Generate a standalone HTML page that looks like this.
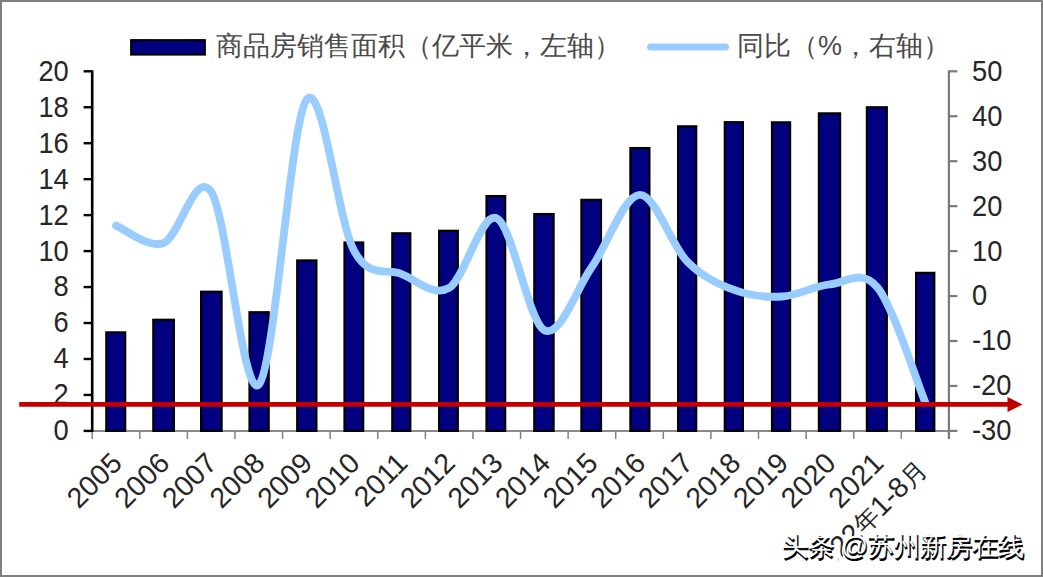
<!DOCTYPE html>
<html><head><meta charset="utf-8">
<style>
html,body{margin:0;padding:0;background:#fff;}
body{width:1043px;height:577px;position:relative;overflow:hidden;font-family:"Liberation Sans",sans-serif;}
.frame{position:absolute;left:0;top:0;width:1043px;height:577px;box-sizing:border-box;border:2px solid #7f7f7f;border-right-width:2.3px;border-bottom-width:2.3px;}
.leg{position:absolute;top:29px;font-size:27px;line-height:34px;letter-spacing:0px;color:#4a4a4a;white-space:nowrap;}
.wm{position:absolute;left:782px;top:529px;font-size:26.4px;line-height:34px;white-space:nowrap;}
.wm.b{color:#000;-webkit-text-stroke:0.9px #000;transform:translate(0.7px,1.5px);text-shadow:2px 0 0 #fff,-2px 0 0 #fff,0 2px 0 #fff,0 -2px 0 #fff,1.5px 1.5px 0 #fff,-1.5px -1.5px 0 #fff,1.5px -1.5px 0 #fff,-1.5px 1.5px 0 #fff;}
.wm.w{color:#fff;}
</style></head><body>
<svg width="1043" height="577" viewBox="0 0 1043 577" style="position:absolute;left:0;top:0">
<g><line x1="92.2" y1="430.9" x2="948.9" y2="430.9" stroke="#8a8a8a" stroke-width="2"/><line x1="92.20" y1="430.9" x2="92.20" y2="438.9" stroke="#808080" stroke-width="1.5"/><line x1="139.79" y1="430.9" x2="139.79" y2="438.9" stroke="#808080" stroke-width="1.5"/><line x1="187.39" y1="430.9" x2="187.39" y2="438.9" stroke="#808080" stroke-width="1.5"/><line x1="234.98" y1="430.9" x2="234.98" y2="438.9" stroke="#808080" stroke-width="1.5"/><line x1="282.58" y1="430.9" x2="282.58" y2="438.9" stroke="#808080" stroke-width="1.5"/><line x1="330.17" y1="430.9" x2="330.17" y2="438.9" stroke="#808080" stroke-width="1.5"/><line x1="377.77" y1="430.9" x2="377.77" y2="438.9" stroke="#808080" stroke-width="1.5"/><line x1="425.36" y1="430.9" x2="425.36" y2="438.9" stroke="#808080" stroke-width="1.5"/><line x1="472.96" y1="430.9" x2="472.96" y2="438.9" stroke="#808080" stroke-width="1.5"/><line x1="520.55" y1="430.9" x2="520.55" y2="438.9" stroke="#808080" stroke-width="1.5"/><line x1="568.14" y1="430.9" x2="568.14" y2="438.9" stroke="#808080" stroke-width="1.5"/><line x1="615.74" y1="430.9" x2="615.74" y2="438.9" stroke="#808080" stroke-width="1.5"/><line x1="663.33" y1="430.9" x2="663.33" y2="438.9" stroke="#808080" stroke-width="1.5"/><line x1="710.93" y1="430.9" x2="710.93" y2="438.9" stroke="#808080" stroke-width="1.5"/><line x1="758.52" y1="430.9" x2="758.52" y2="438.9" stroke="#808080" stroke-width="1.5"/><line x1="806.12" y1="430.9" x2="806.12" y2="438.9" stroke="#808080" stroke-width="1.5"/><line x1="853.71" y1="430.9" x2="853.71" y2="438.9" stroke="#808080" stroke-width="1.5"/><line x1="901.31" y1="430.9" x2="901.31" y2="438.9" stroke="#808080" stroke-width="1.5"/><line x1="948.90" y1="430.9" x2="948.90" y2="438.9" stroke="#808080" stroke-width="1.5"/></g>
<g><rect x="106.30" y="332.37" width="18.90" height="98.53" fill="#000080" stroke="#000" stroke-width="2.2"/><rect x="153.30" y="319.78" width="20.60" height="111.12" fill="#000080" stroke="#000" stroke-width="2.2"/><rect x="201.10" y="291.73" width="20.50" height="139.17" fill="#000080" stroke="#000" stroke-width="2.2"/><rect x="249.50" y="312.23" width="19.20" height="118.67" fill="#000080" stroke="#000" stroke-width="2.2"/><rect x="297.20" y="260.45" width="19.20" height="170.45" fill="#000080" stroke="#000" stroke-width="2.2"/><rect x="344.50" y="242.47" width="18.70" height="188.43" fill="#000080" stroke="#000" stroke-width="2.2"/><rect x="392.30" y="233.30" width="18.00" height="197.60" fill="#000080" stroke="#000" stroke-width="2.2"/><rect x="439.10" y="230.78" width="18.70" height="200.12" fill="#000080" stroke="#000" stroke-width="2.2"/><rect x="486.50" y="196.08" width="18.70" height="234.82" fill="#000080" stroke="#000" stroke-width="2.2"/><rect x="534.30" y="214.06" width="19.30" height="216.84" fill="#000080" stroke="#000" stroke-width="2.2"/><rect x="581.40" y="199.86" width="19.60" height="231.04" fill="#000080" stroke="#000" stroke-width="2.2"/><rect x="630.40" y="148.07" width="19.00" height="282.83" fill="#000080" stroke="#000" stroke-width="2.2"/><rect x="678.10" y="126.32" width="18.10" height="304.58" fill="#000080" stroke="#000" stroke-width="2.2"/><rect x="724.80" y="122.18" width="18.10" height="308.72" fill="#000080" stroke="#000" stroke-width="2.2"/><rect x="772.00" y="122.36" width="18.10" height="308.54" fill="#000080" stroke="#000" stroke-width="2.2"/><rect x="818.90" y="113.37" width="21.20" height="317.53" fill="#000080" stroke="#000" stroke-width="2.2"/><rect x="866.90" y="107.26" width="19.90" height="323.64" fill="#000080" stroke="#000" stroke-width="2.2"/><rect x="916.10" y="272.86" width="18.20" height="158.04" fill="#000080" stroke="#000" stroke-width="2.2"/></g>
<g><line x1="92.2" y1="70.3" x2="92.2" y2="431.9" stroke="#000" stroke-width="2.6"/><line x1="83.60000000000001" y1="430.90" x2="92.2" y2="430.90" stroke="#000" stroke-width="2.4"/><line x1="83.60000000000001" y1="394.94" x2="92.2" y2="394.94" stroke="#000" stroke-width="2.4"/><line x1="83.60000000000001" y1="358.98" x2="92.2" y2="358.98" stroke="#000" stroke-width="2.4"/><line x1="83.60000000000001" y1="323.02" x2="92.2" y2="323.02" stroke="#000" stroke-width="2.4"/><line x1="83.60000000000001" y1="287.06" x2="92.2" y2="287.06" stroke="#000" stroke-width="2.4"/><line x1="83.60000000000001" y1="251.10" x2="92.2" y2="251.10" stroke="#000" stroke-width="2.4"/><line x1="83.60000000000001" y1="215.14" x2="92.2" y2="215.14" stroke="#000" stroke-width="2.4"/><line x1="83.60000000000001" y1="179.18" x2="92.2" y2="179.18" stroke="#000" stroke-width="2.4"/><line x1="83.60000000000001" y1="143.22" x2="92.2" y2="143.22" stroke="#000" stroke-width="2.4"/><line x1="83.60000000000001" y1="107.26" x2="92.2" y2="107.26" stroke="#000" stroke-width="2.4"/><line x1="83.60000000000001" y1="71.30" x2="92.2" y2="71.30" stroke="#000" stroke-width="2.4"/></g>
<g><line x1="948.9" y1="70.3" x2="948.9" y2="438.9" stroke="#7a7a7a" stroke-width="2.2"/><line x1="948.9" y1="71.30" x2="957.4" y2="71.30" stroke="#7a7a7a" stroke-width="2.2"/><line x1="948.9" y1="116.25" x2="957.4" y2="116.25" stroke="#7a7a7a" stroke-width="2.2"/><line x1="948.9" y1="161.20" x2="957.4" y2="161.20" stroke="#7a7a7a" stroke-width="2.2"/><line x1="948.9" y1="206.15" x2="957.4" y2="206.15" stroke="#7a7a7a" stroke-width="2.2"/><line x1="948.9" y1="251.10" x2="957.4" y2="251.10" stroke="#7a7a7a" stroke-width="2.2"/><line x1="948.9" y1="296.05" x2="957.4" y2="296.05" stroke="#7a7a7a" stroke-width="2.2"/><line x1="948.9" y1="341.00" x2="957.4" y2="341.00" stroke="#7a7a7a" stroke-width="2.2"/><line x1="948.9" y1="385.95" x2="957.4" y2="385.95" stroke="#7a7a7a" stroke-width="2.2"/><line x1="948.9" y1="430.90" x2="957.4" y2="430.90" stroke="#7a7a7a" stroke-width="2.2"/></g>
<path d="M116.00,225.48 C123.93,228.40 147.73,248.63 163.59,243.01 C179.46,237.39 195.32,168.17 211.19,191.77 C227.05,215.36 242.92,399.88 258.78,384.60 C274.65,369.32 290.51,122.39 306.38,100.07 C322.24,77.74 338.10,221.66 353.97,250.65 C369.83,279.64 385.70,267.81 401.56,274.02 C417.43,280.24 433.29,297.25 449.16,287.96 C465.02,278.67 480.89,211.24 496.75,218.29 C512.62,225.33 528.48,322.12 544.35,330.21 C560.21,338.30 576.08,289.38 591.94,266.83 C607.81,244.28 623.67,195.81 639.54,194.91 C655.40,194.01 671.27,245.56 687.13,261.44 C703.00,277.32 718.86,284.36 734.73,290.21 C750.59,296.05 766.45,297.47 782.32,296.50 C798.18,295.53 814.05,285.86 829.91,284.36 C845.78,282.86 861.64,267.92 877.51,287.51 C893.37,307.10 917.17,382.84 925.10,401.91" fill="none" stroke="#99CCFF" stroke-width="7.8" stroke-linecap="round" stroke-linejoin="round"/>
<g font-family="Liberation Sans, sans-serif" font-size="26" fill="#262626"><text transform="translate(68.8,440.30) scale(1.05,1.11)" text-anchor="end">0</text><text transform="translate(68.8,404.34) scale(1.05,1.11)" text-anchor="end">2</text><text transform="translate(68.8,368.38) scale(1.05,1.11)" text-anchor="end">4</text><text transform="translate(68.8,332.42) scale(1.05,1.11)" text-anchor="end">6</text><text transform="translate(68.8,296.46) scale(1.05,1.11)" text-anchor="end">8</text><text transform="translate(68.8,260.50) scale(1.05,1.11)" text-anchor="end">10</text><text transform="translate(68.8,224.54) scale(1.05,1.11)" text-anchor="end">12</text><text transform="translate(68.8,188.58) scale(1.05,1.11)" text-anchor="end">14</text><text transform="translate(68.8,152.62) scale(1.05,1.11)" text-anchor="end">16</text><text transform="translate(68.8,116.66) scale(1.05,1.11)" text-anchor="end">18</text><text transform="translate(68.8,80.70) scale(1.05,1.11)" text-anchor="end">20</text><text transform="translate(972,80.70) scale(1.05,1.11)">50</text><text transform="translate(972,125.65) scale(1.05,1.11)">40</text><text transform="translate(972,170.60) scale(1.05,1.11)">30</text><text transform="translate(972,215.55) scale(1.05,1.11)">20</text><text transform="translate(972,260.50) scale(1.05,1.11)">10</text><text transform="translate(972,305.45) scale(1.05,1.11)">0</text><text transform="translate(972,350.40) scale(1.05,1.11)">-10</text><text transform="translate(972,395.35) scale(1.05,1.11)">-20</text><text transform="translate(972,440.30) scale(1.05,1.11)">-30</text></g>
<g font-family="Liberation Sans, sans-serif" font-size="28.5" fill="#262626"><text transform="translate(123.60,464.8) rotate(-45)" text-anchor="end">2005</text><text transform="translate(171.19,464.8) rotate(-45)" text-anchor="end">2006</text><text transform="translate(218.79,464.8) rotate(-45)" text-anchor="end">2007</text><text transform="translate(266.38,464.8) rotate(-45)" text-anchor="end">2008</text><text transform="translate(313.98,464.8) rotate(-45)" text-anchor="end">2009</text><text transform="translate(361.57,464.8) rotate(-45)" text-anchor="end">2010</text><text transform="translate(409.16,464.8) rotate(-45)" text-anchor="end">2011</text><text transform="translate(456.76,464.8) rotate(-45)" text-anchor="end">2012</text><text transform="translate(504.35,464.8) rotate(-45)" text-anchor="end">2013</text><text transform="translate(551.95,464.8) rotate(-45)" text-anchor="end">2014</text><text transform="translate(599.54,464.8) rotate(-45)" text-anchor="end">2015</text><text transform="translate(647.14,464.8) rotate(-45)" text-anchor="end">2016</text><text transform="translate(694.73,464.8) rotate(-45)" text-anchor="end">2017</text><text transform="translate(742.33,464.8) rotate(-45)" text-anchor="end">2018</text><text transform="translate(789.92,464.8) rotate(-45)" text-anchor="end">2019</text><text transform="translate(837.51,464.8) rotate(-45)" text-anchor="end">2020</text><text transform="translate(885.11,464.8) rotate(-45)" text-anchor="end">2021</text><text transform="translate(928.50,471.0) rotate(-45)" text-anchor="end">2022<tspan font-size="25">年</tspan>1-8<tspan font-size="25">月</tspan></text></g>
<rect x="131.1" y="40.1" width="73.8" height="14.5" fill="#000080" stroke="#000" stroke-width="2"/>
<line x1="650.5" y1="46.9" x2="725.5" y2="46.9" stroke="#99CCFF" stroke-width="7" stroke-linecap="round"/>
<line x1="19.2" y1="404.4" x2="1008" y2="404.4" stroke="#C00000" stroke-width="4.8"/>
<polygon points="1007.5,397 1022.5,404.5 1007.5,412" fill="#C00000"/>
</svg>
<div class="leg" style="left:216px">商品房销售面积（亿平米，左轴）</div>
<div class="leg" style="left:737px">同比（%，右轴）</div>
<div style="position:absolute;left:780px;top:545px;width:58px;height:31px;background:#fff"></div>
<div class="wm b">头条 @苏州新房在线</div>
<div class="wm w">头条 @苏州新房在线</div>
<div class="frame"></div>
</body></html>
